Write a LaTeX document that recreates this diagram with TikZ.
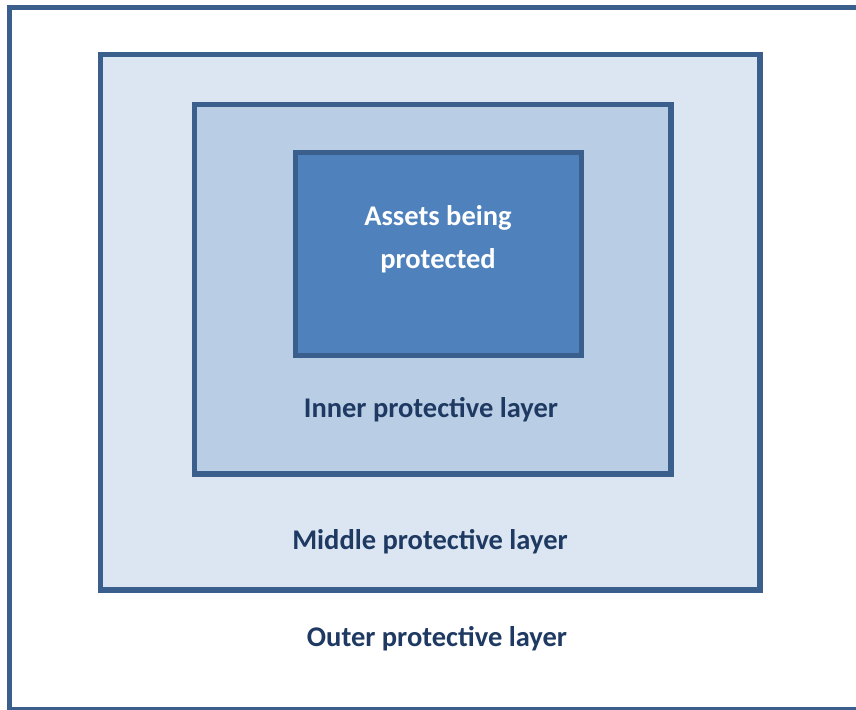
\documentclass[tikz,border=0pt]{standalone}
\usepackage{fontspec}
\setmainfont{Carlito}
\definecolor{edge}{HTML}{3A5F8C}
\definecolor{fillA}{HTML}{4F81BD}
\definecolor{fillI}{HTML}{B9CDE5}
\definecolor{fillM}{HTML}{DCE6F2}
\definecolor{txt}{HTML}{1F3A62}
\begin{document}
\begin{tikzpicture}[x=1pt,y=-1pt,
  layer/.style={draw=edge,line width=5.5pt},
  lbl/.style={font=\fontsize{28.5}{43}\selectfont\bfseries,text=txt,align=center,inner sep=0pt}]
\useasboundingbox (0,0) rectangle (856,709);
\begin{scope}
\clip (0,0) rectangle (856,709);
\draw[layer,fill=white] (9.5,7.5) rectangle (880,710);
\end{scope}
\draw[layer,fill=fillM] (100.5,54.5) rectangle (760,590);
\draw[layer,fill=fillI] (194.5,104.5) rectangle (671,474);
\draw[layer,fill=fillA] (295.5,152.5) rectangle (581.5,355.5);
\node[lbl,text=white] (assets) at (438,239.5) {Assets being\\protected};
\node[lbl] (inner) at (431,409.5) {Inner protective layer};
\node[lbl] (middle) at (430,542) {Middle protective layer};
\node[lbl] (outer) at (437,638.5) {Outer protective layer};
\end{tikzpicture}
\end{document}
